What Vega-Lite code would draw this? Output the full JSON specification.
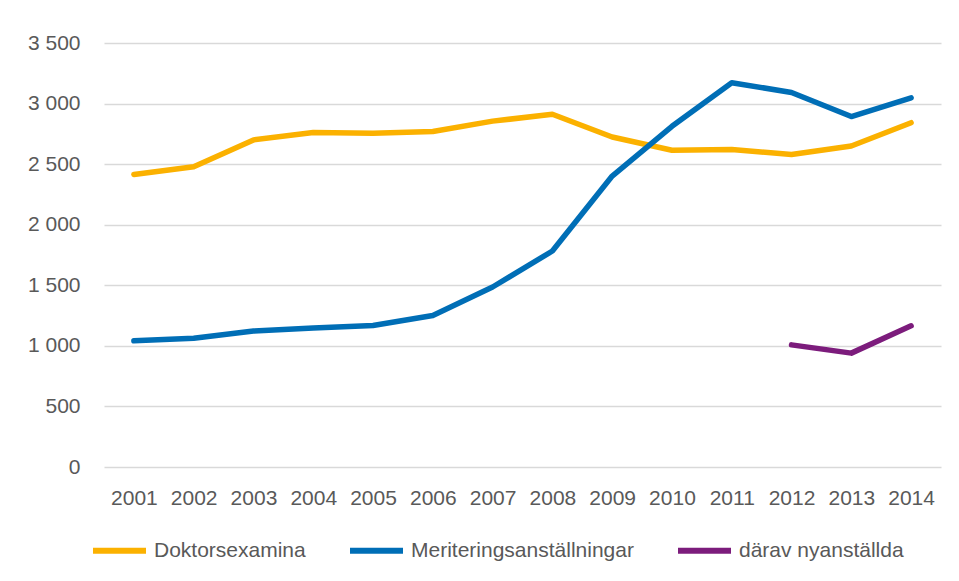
{
  "$schema": "https://vega.github.io/schema/vega-lite/v6.json",
  "width": 837,
  "height": 424,
  "autosize": {"type": "none"},
  "padding": {"left": 104, "top": 43, "right": 18, "bottom": 114},
  "background": "white",
  "config": {
    "locale": {"number": {"decimal": ",", "thousands": " ", "grouping": [3], "currency": ["", ""]}},
    "view": {"stroke": null},
    "font": "Liberation Sans"
  },
  "data": {
    "values": [
      {"year": "2001", "series": "Doktorsexamina", "value": 2415},
      {"year": "2002", "series": "Doktorsexamina", "value": 2478},
      {"year": "2003", "series": "Doktorsexamina", "value": 2700},
      {"year": "2004", "series": "Doktorsexamina", "value": 2762},
      {"year": "2005", "series": "Doktorsexamina", "value": 2755},
      {"year": "2006", "series": "Doktorsexamina", "value": 2770},
      {"year": "2007", "series": "Doktorsexamina", "value": 2855},
      {"year": "2008", "series": "Doktorsexamina", "value": 2912},
      {"year": "2009", "series": "Doktorsexamina", "value": 2724},
      {"year": "2010", "series": "Doktorsexamina", "value": 2615},
      {"year": "2011", "series": "Doktorsexamina", "value": 2620},
      {"year": "2012", "series": "Doktorsexamina", "value": 2580},
      {"year": "2013", "series": "Doktorsexamina", "value": 2650},
      {"year": "2014", "series": "Doktorsexamina", "value": 2842},
      {"year": "2001", "series": "Meriteringsanställningar", "value": 1042},
      {"year": "2002", "series": "Meriteringsanställningar", "value": 1062},
      {"year": "2003", "series": "Meriteringsanställningar", "value": 1122},
      {"year": "2004", "series": "Meriteringsanställningar", "value": 1147},
      {"year": "2005", "series": "Meriteringsanställningar", "value": 1168},
      {"year": "2006", "series": "Meriteringsanställningar", "value": 1250},
      {"year": "2007", "series": "Meriteringsanställningar", "value": 1486},
      {"year": "2008", "series": "Meriteringsanställningar", "value": 1783},
      {"year": "2009", "series": "Meriteringsanställningar", "value": 2402},
      {"year": "2010", "series": "Meriteringsanställningar", "value": 2812},
      {"year": "2011", "series": "Meriteringsanställningar", "value": 3172},
      {"year": "2012", "series": "Meriteringsanställningar", "value": 3092},
      {"year": "2013", "series": "Meriteringsanställningar", "value": 2893},
      {"year": "2014", "series": "Meriteringsanställningar", "value": 3048},
      {"year": "2012", "series": "därav nyanställda", "value": 1008},
      {"year": "2013", "series": "därav nyanställda", "value": 940},
      {"year": "2014", "series": "därav nyanställda", "value": 1165}
    ]
  },
  "mark": {"type": "line", "strokeWidth": 5.5, "strokeCap": "round", "strokeJoin": "round"},
  "encoding": {
    "x": {
      "field": "year",
      "type": "ordinal",
      "scale": {"type": "point", "padding": 0.5},
      "axis": {
        "title": null,
        "labelAngle": 0,
        "labelFontSize": 21,
        "labelColor": "#595959",
        "labelPadding": 20,
        "ticks": false,
        "domain": false,
        "grid": false
      }
    },
    "y": {
      "field": "value",
      "type": "quantitative",
      "scale": {"domain": [0, 3500]},
      "axis": {
        "title": null,
        "values": [0, 500, 1000, 1500, 2000, 2500, 3000, 3500],
        "format": ",d",
        "labelFontSize": 21,
        "labelColor": "#595959",
        "labelPadding": 24,
        "ticks": false,
        "domain": false,
        "grid": true,
        "gridColor": "#d9d9d9",
        "gridWidth": 1.5
      }
    },
    "color": {
      "field": "series",
      "type": "nominal",
      "scale": {
        "domain": ["Doktorsexamina", "Meriteringsanställningar", "därav nyanställda"],
        "range": ["#FBB100", "#006EB6", "#7C1C7C"]
      },
      "legend": {
        "title": null,
        "orient": "none",
        "direction": "horizontal",
        "legendX": -14,
        "legendY": 478,
        "symbolType": "stroke",
        "symbolStrokeWidth": 6,
        "symbolSize": 2809,
        "labelFontSize": 21,
        "labelColor": "#595959",
        "labelOffset": 5,
        "labelLimit": 400,
        "columnPadding": 32
      }
    }
  }
}
